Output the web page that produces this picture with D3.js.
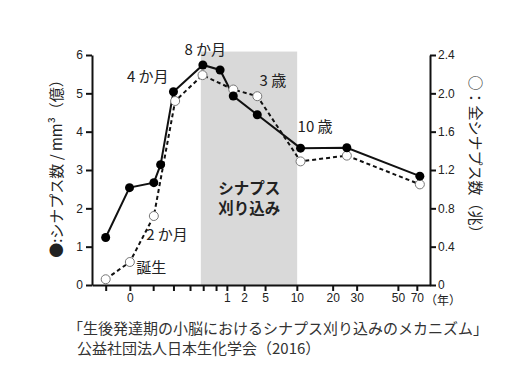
<!DOCTYPE html>
<html>
<head>
<meta charset="utf-8">
<script src="https://cdn.jsdelivr.net/npm/d3@7"></script>
<style>
  body { margin: 0; background: #fff; }
  svg text { font-family: "Liberation Sans", Arial, sans-serif; }
  .jp { font-family: "Noto Sans CJK JP", sans-serif; }
</style>
</head>
<body>
<div class="chart-container"></div>
<script>
// x positions are on an abstract age axis (0..100), not linear in time
const tickPos    = [4.05, 11.2, 18.1, 24.1, 29.0, 32.9, 36.7, 39.9, 45.0, 51.2, 60.6, 71.2, 78.3, 90.5, 96.1]
const tickLabels = ['', '0', '', '', '', '', '', '1', '2', '5', '10', '20', '30', '50', '70']

// ● synapse density per mm3 (100 million)
const densityPos = [4.05, 11.1, 18.3, 20.3, 24.1, 32.8, 37.9, 41.8, 48.9, 61.7, 75.4, 97.0]
const densityVal = [1.24, 2.54, 2.67, 3.14, 5.04, 5.74, 5.61, 4.93, 4.44, 3.57, 3.58, 2.84]

// ○ total synapse count (trillion)
const totalPos = [4.05, 11.2, 18.3, 24.6, 32.7, 41.8, 48.9, 61.7, 75.4, 97.0]
const totalVal = [0.06, 0.24, 0.72, 1.92, 2.19, 2.04, 1.97, 1.29, 1.35, 1.05]

const pruneRange = [32.2, 60.7]

const leftTicks  = [0, 1, 2, 3, 4, 5, 6]
const rightTicks = [0, 0.4, 0.8, 1.2, 1.6, 2.0, 2.4]

const annotations = [
    {text: '8 か月', pos: 33.5, val: 6.0},
    {text: '4 か月', pos: 16.5, val: 5.3},
    {text: '3 歳',   pos: 53.5, val: 5.2},
    {text: '10 歳',  pos: 66.0, val: 4.0},
    {text: '2 か月', pos: 22.2, val: 1.17},
    {text: '誕生',   pos: 17.5, val: 0.31}
]

const width = 528, height = 378
const margin = {top: 55, right: 98, bottom: 93, left: 92}

const svg = d3.select('.chart-container').append('svg')
    .attr('width', width)
    .attr('height', height)

const x = d3.scaleLinear().domain([0, 100]).range([margin.left, width - margin.right])
const yL = d3.scaleLinear().domain([0, 6]).range([height - margin.bottom, margin.top])
const yR = d3.scaleLinear().domain([0, 2.4]).range([height - margin.bottom, margin.top])

// pruning period
svg.append('rect')
    .attr('x', x(pruneRange[0]))
    .attr('y', yL(6.09))
    .attr('width', x(pruneRange[1]) - x(pruneRange[0]))
    .attr('height', yL(0) - yL(6.09))
    .attr('fill', '#d9d9d9')

svg.selectAll('.prune')
    .data(['シナプス', '刈り込み'])
    .enter()
    .append('text')
    .attr('class', 'jp')
    .attr('x', x(46.5))
    .attr('y', (d, i) => 194 + i * 20)
    .attr('text-anchor', 'middle')
    .attr('font-size', 15.5)
    .attr('font-weight', 'bold')
    .attr('fill', '#222')
    .text(d => d)

const density = densityPos.map((p, i) => ({p: p, v: densityVal[i]}))
const total = totalPos.map((p, i) => ({p: p, v: totalVal[i]}))

svg.append('path')
    .datum(total)
    .attr('fill', 'none')
    .attr('stroke', '#111')
    .attr('stroke-width', 2)
    .attr('stroke-dasharray', '4,3')
    .attr('d', d3.line().x(d => x(d.p)).y(d => yR(d.v)))

svg.append('path')
    .datum(density)
    .attr('fill', 'none')
    .attr('stroke', '#111')
    .attr('stroke-width', 2)
    .attr('d', d3.line().x(d => x(d.p)).y(d => yL(d.v)))

svg.selectAll('.open')
    .data(total)
    .enter()
    .append('circle')
    .attr('cx', d => x(d.p))
    .attr('cy', d => yR(d.v))
    .attr('r', 4.5)
    .attr('fill', '#fff')
    .attr('stroke', '#777')
    .attr('stroke-width', 1)

svg.selectAll('.filled')
    .data(density)
    .enter()
    .append('circle')
    .attr('cx', d => x(d.p))
    .attr('cy', d => yL(d.v))
    .attr('r', 4.5)
    .attr('fill', '#000')

svg.selectAll('.note')
    .data(annotations)
    .enter()
    .append('text')
    .attr('class', 'jp')
    .attr('x', d => x(d.pos))
    .attr('y', d => yL(d.val))
    .attr('text-anchor', 'middle')
    .attr('font-size', 15)
    .attr('fill', '#222')
    .text(d => d.text)

// axes
const xAxis = d3.axisBottom(x)
    .tickValues(tickPos)
    .tickFormat((d, i) => tickLabels[i])
    .tickSize(6)
    .tickSizeOuter(0)
    .tickPadding(2)

const gx = svg.append('g')
    .attr('transform', `translate(0,${height - margin.bottom})`)
    .call(xAxis)

const gl = svg.append('g')
    .attr('transform', `translate(${margin.left},0)`)
    .call(d3.axisLeft(yL).tickValues(leftTicks).tickSize(6).tickSizeOuter(0).tickPadding(3)
        .tickFormat(d => String(d)))

const gr = svg.append('g')
    .attr('transform', `translate(${width - margin.right},0)`)
    .call(d3.axisRight(yR).tickValues(rightTicks).tickSize(6).tickSizeOuter(0).tickPadding(2)
        .tickFormat(d => d === 0 ? '0' : d.toFixed(1)))

for (const g of [gx, gl, gr]) {
    g.selectAll('path, line').attr('stroke', '#111').attr('stroke-width', 2)
    g.selectAll('text').attr('font-size', 12).attr('fill', '#222')
        .attr('font-family', '"Liberation Sans", Arial, sans-serif')
}

svg.append('text')
    .attr('class', 'jp')
    .attr('x', 425)
    .attr('y', 305)
    .attr('font-size', 12)
    .attr('fill', '#222')
    .text('（年）')

svg.append('text')
    .attr('class', 'jp')
    .attr('transform', `translate(62,165) rotate(-90)`)
    .attr('text-anchor', 'middle')
    .attr('font-size', 15)
    .attr('fill', '#222')
    .text('●:シナプス数 / mm³（億）')

svg.append('text')
    .attr('class', 'jp')
    .attr('transform', `translate(470,158) rotate(90)`)
    .attr('text-anchor', 'middle')
    .attr('font-size', 15)
    .attr('fill', '#222')
    .text('○：全シナプス数（兆）')

svg.append('text')
    .attr('class', 'jp')
    .attr('x', 68)
    .attr('y', 334)
    .attr('font-size', 15)
    .attr('fill', '#333')
    .text('「生後発達期の小脳におけるシナプス刈り込みのメカニズム」')

svg.append('text')
    .attr('class', 'jp')
    .attr('x', 77)
    .attr('y', 354)
    .attr('font-size', 15)
    .attr('fill', '#333')
    .text('公益社団法人日本生化学会（2016）')
</script>
</body>
</html>
